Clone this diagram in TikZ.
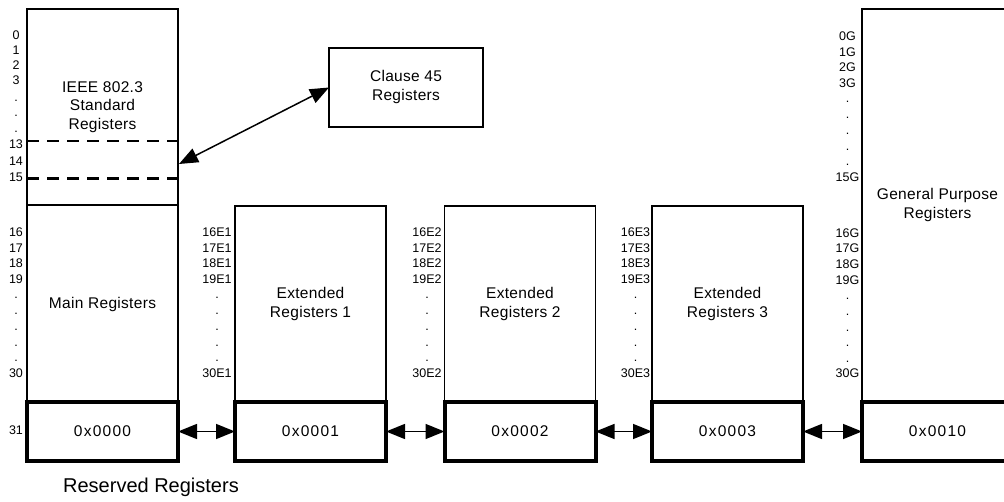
\documentclass[tikz,border=0pt]{standalone}
\usepackage{fontspec}
\setmainfont{Liberation Sans}
\newfontfamily\hexfont[LetterSpace=8]{Liberation Sans}
\newfontfamily\txtfont[LetterSpace=2]{Liberation Sans}
\usetikzlibrary{arrows.meta}
\tikzset{
  regbox/.style={draw, line width=1.5pt, inner sep=0pt, outer sep=0pt},
  resbox/.style={draw, line width=4pt, inner sep=0pt, outer sep=0pt, font=\hexfont\fontsize{15.5}{18}\selectfont},
  boxtext/.style={align=center, font=\txtfont\fontsize{15.5}{18.5}\selectfont},
  lbl/.style={anchor=base, inner sep=0pt, font=\fontsize{12.5}{14}\selectfont},
  dbl/.style={line width=1.5pt, {Triangle[length=19pt,width=15pt]}-{Triangle[length=19pt,width=15pt]}},
  dline/.style={line width=2.6pt, dash pattern=on 12pt off 8pt}
}
\begin{document}
\begin{tikzpicture}[x=1pt,y=-1pt]
\useasboundingbox (0,0) rectangle (1004,502);
% main column
\node[regbox, minimum width=151pt, minimum height=393pt] (main) at (102.5,205.5) {};
\coordinate (d1l) at (27,141); \coordinate (d1r) at (178,141);
\coordinate (d2l) at (27,178.5); \coordinate (d2r) at (178,178.5);
\coordinate (divl) at (27,205); \coordinate (divr) at (178,205);
\draw[dline] (d1l) -- (d1r);
\draw[dline] (d2l) -- (d2r);
\draw[line width=1.5pt] (divl) -- (divr);
\node[boxtext] (ieee) at (102.5,107) {IEEE 802.3\\Standard\\Registers};
\node[boxtext] (maint) at (102.5,304) {Main Registers};
\node[resbox, minimum width=151pt, minimum height=59pt] (r0) at (102.5,431.5) {0x0000};
% extended
\node[regbox, minimum width=151pt, minimum height=196pt] (e1) at (310.5,304) {};
\node[boxtext] (e1t) at (310.5,304) {Extended\\Registers 1};
\node[resbox, minimum width=151pt, minimum height=59pt] (r1) at (310.5,431.5) {0x0001};
\node[regbox, minimum width=151pt, minimum height=196pt] (e2) at (520,304) {};
\node[boxtext] (e2t) at (520,304) {Extended\\Registers 2};
\node[resbox, minimum width=151pt, minimum height=59pt] (r2) at (520,431.5) {0x0002};
\node[regbox, minimum width=151pt, minimum height=196pt] (e3) at (727.5,304) {};
\node[boxtext] (e3t) at (727.5,304) {Extended\\Registers 3};
\node[resbox, minimum width=151pt, minimum height=59pt] (r3) at (727.5,431.5) {0x0003};
% general purpose
\node[regbox, minimum width=151pt, minimum height=393pt] (gp) at (937.5,205.5) {};
\node[boxtext] (gpt) at (937.5,205) {General Purpose\\Registers};
\node[resbox, minimum width=151pt, minimum height=59pt] (r4) at (937.5,431.5) {0x0010};
% clause 45
\node[regbox, minimum width=154pt, minimum height=79pt] (cl) at (406,87.5) {};
\node[boxtext] (clt) at (406,87) {Clause 45\\Registers};
\coordinate (m14) at (179,164);
\draw[dbl] (m14) -- (cl.west);
% connectors between reserved registers
\draw[dbl] (r0.east) -- (r1.west);
\draw[dbl] (r1.east) -- (r2.west);
\draw[dbl] (r2.east) -- (r3.west);
\draw[dbl] (r3.east) -- (r4.west);
% labels
\foreach \t/\y [count=\k] in {0/40,1/55,2/70,3/85,./102,./117,./133,13/149,14/166,15/182,16/237,17/253,18/268,19/284,./299,./315,./331,./347,./362,30/378,31/435}
  \node[lbl] (ml\k) at (16,\y) {\t};
\foreach \cx/\s [count=\j] in {217/E1,427/E2,635.5/E3}{
  \foreach \t/\y [count=\k] in {16/237,17/253,18/268,19/284,./299,./315,./331,./347,./362,30/378}{
    \if\t.\node[lbl] (el\j-\k) at (\cx,\y) {.};\else\node[lbl] (el\j-\k) at (\cx,\y) {\t\s};\fi
  }
}
\foreach \t/\y [count=\k] in {0G/41,1G/57,2G/72,3G/88,./103,./119,./135,./151,./166,15G/182,16G/238,17G/253,18G/269,19G/285,./300,./316,./332,./347,./363,30G/378}
  \node[lbl] (gl\k) at (847.5,\y) {\t};
\node[anchor=base, inner sep=0pt, font=\fontsize{20}{24}\selectfont] (rr) at (151,492) {Reserved Registers};
\end{tikzpicture}
\end{document}
